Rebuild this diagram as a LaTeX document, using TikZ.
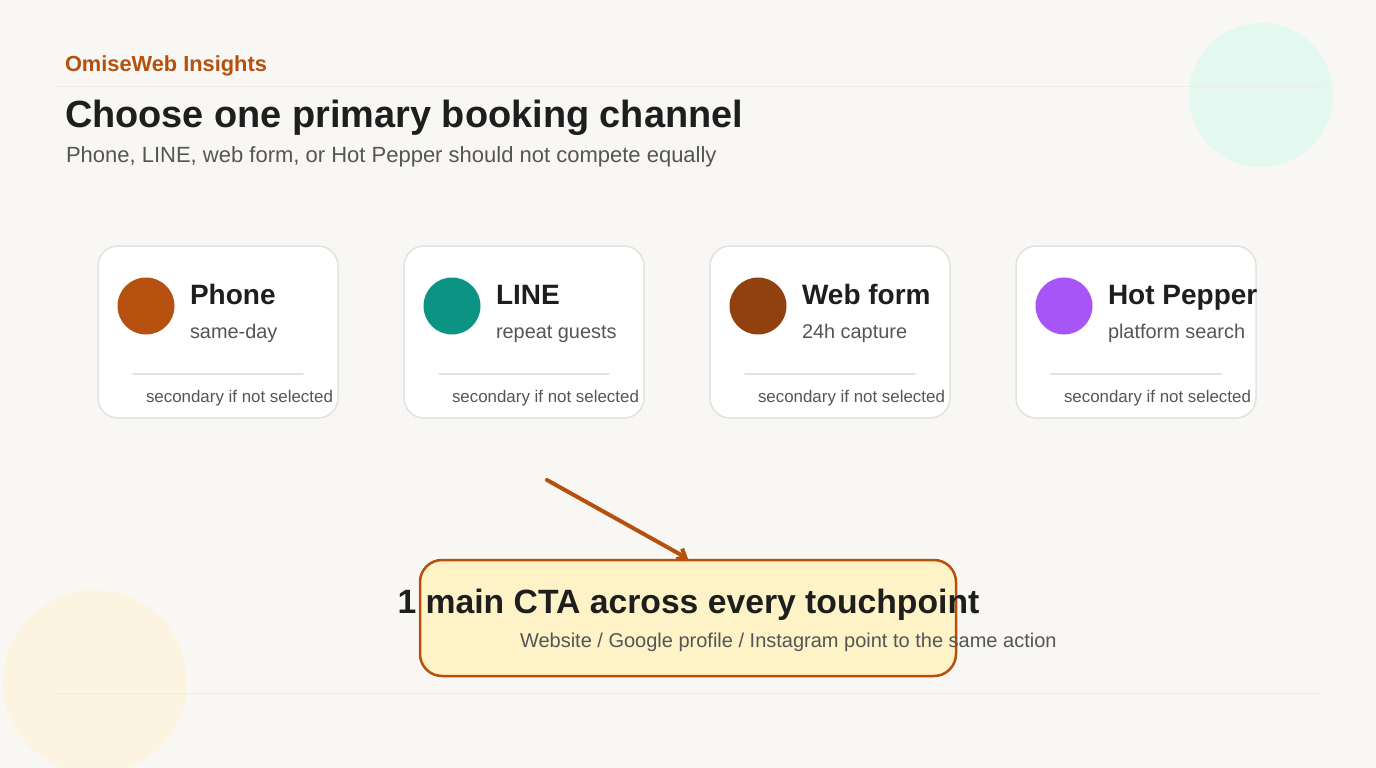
\documentclass[tikz,border=0pt]{standalone}
\usepackage{fontspec}
\setmainfont{Liberation Sans}
\usetikzlibrary{arrows.meta,positioning}

\definecolor{paper}{HTML}{F9F7F4}
\definecolor{mintblob}{HTML}{E2F8F0}
\definecolor{sandblob}{HTML}{FCF4E0}
\definecolor{rulegray}{HTML}{EFECE8}
\definecolor{brandorange}{HTML}{B5500F}
\definecolor{inkdark}{HTML}{1E1E1E}
\definecolor{inkgray}{HTML}{555555}
\definecolor{cardline}{HTML}{E2E2E2}
\definecolor{phonecol}{HTML}{B5500F}
\definecolor{linecol}{HTML}{0B9484}
\definecolor{webcol}{HTML}{91400F}
\definecolor{peppercol}{HTML}{A855F7}
\definecolor{ctafill}{HTML}{FEF3C7}

\tikzset{
  txt/.style={anchor=base west,inner sep=0pt,outer sep=0pt},
  card/.style={draw=cardline,line width=1.5pt,fill=white,rounded corners=20pt,
    minimum width=240pt,minimum height=172pt,inner sep=0pt},
  dot/.style={circle,minimum size=57pt,inner sep=0pt},
  divider/.style={draw=cardline,line width=1.2pt},
}

\begin{document}
\begin{tikzpicture}[x=1pt,y=-1pt,line cap=round,line join=round]
\useasboundingbox (0,0) rectangle (1376,768);
\fill[paper] (0,0) rectangle (1376,768);

% soft blobs
\fill[mintblob] (1261,95) circle (72);
\fill[sandblob] (95,682) circle (92);
\draw[rulegray,line width=1pt] (56,86) -- (1321,86);
\draw[rulegray,line width=1pt] (56,693) -- (1321,693);

% header
\node[txt,text=brandorange,font=\bfseries\fontsize{21.8}{26}\selectfont] (brand) at (65,72) {OmiseWeb Insights};
\node[txt,text=inkdark,font=\bfseries\fontsize{37.9}{45}\selectfont] (title) at (65,127) {Choose one primary booking channel};
\node[txt,text=inkgray,font=\fontsize{22}{26}\selectfont] (subtitle) at (66,162) {Phone, LINE, web form, or Hot Pepper should not compete equally};

% channel cards
\foreach \i/\chname/\chsub/\chcol in {0/Phone/same-day/phonecol,1/LINE/repeat guests/linecol,2/Web form/24h capture/webcol,3/Hot Pepper/platform search/peppercol}{
  \pgfmathsetmacro\cx{98+306*\i}
  \node[card] (card\i) at (\cx+120,332) {};
  \node[dot,fill=\chcol] (dot\i) at (\cx+48,306) {};
  \node[txt,text=inkdark,font=\bfseries\fontsize{28}{33}\selectfont] (chname\i) at (\cx+92,304) {\chname};
  \node[txt,text=inkgray,font=\fontsize{19.9}{24}\selectfont] (chsub\i) at (\cx+92,338) {\chsub};
  \draw[divider] (\cx+35,374) -- (\cx+205,374);
  \node[txt,text=inkgray,font=\fontsize{16.9}{20}\selectfont] (note\i) at (\cx+48,402) {secondary if not selected};
}

% main call to action
\coordinate (arrowtail) at (547,480);
\node[draw=brandorange,line width=2.5pt,fill=ctafill,rounded corners=22pt,
  minimum width=536pt,minimum height=116pt,inner sep=0pt] (cta) at (688,618) {};
\draw[brandorange,line width=4pt,-{Straight Barb[length=7pt,width=12pt]}] (arrowtail) -- (cta.north);
\node[anchor=base,inner sep=0pt,text=inkdark,font=\bfseries\fontsize{33.7}{40}\selectfont] (ctatitle) at (688.5,613) {1 main CTA across every touchpoint};
\node[txt,text=inkgray,font=\fontsize{20}{24}\selectfont] (ctasub) at (520,647) {Website / Google profile / Instagram point to the same action};
\end{tikzpicture}
\end{document}
